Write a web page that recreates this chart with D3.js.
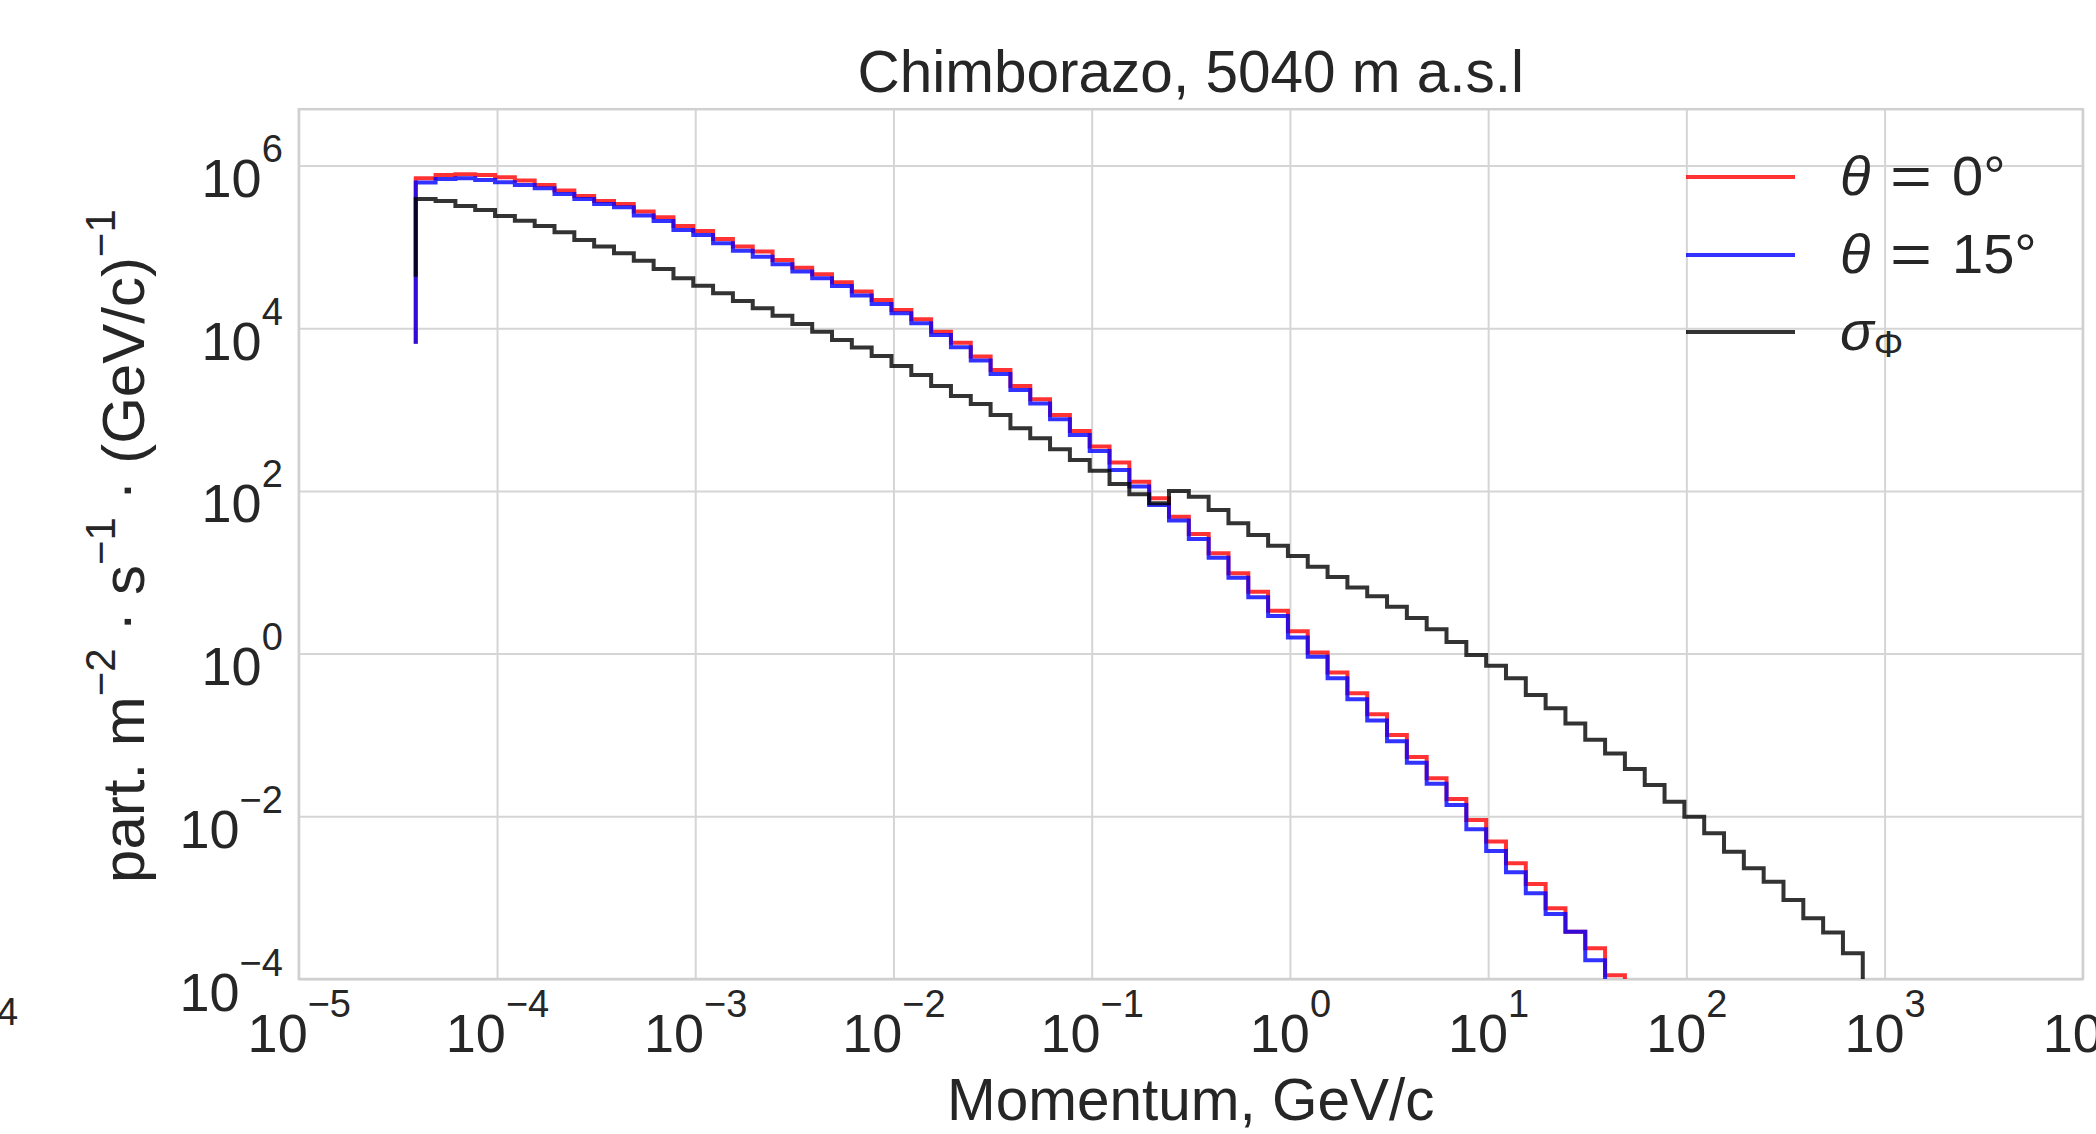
<!DOCTYPE html>
<html>
<head>
<meta charset="utf-8">
<script src="https://cdnjs.cloudflare.com/ajax/libs/d3/7.8.5/d3.min.js"></script>
<style>
body { margin: 0; background: #fff; }
svg text { font-family: "Liberation Sans", Arial, sans-serif; fill: #262626; }
</style>
</head>
<body>
<script>
// histogram bin edges, log10(momentum / GeV/c), shared by all three curves
var binEdgesLog10 = [-4.41,-4.31,-4.21,-4.11,-4.01,-3.91,-3.81,-3.71,-3.61,-3.51,
  -3.41,-3.31,-3.21,-3.11,-3.01,-2.91,-2.81,-2.71,-2.61,-2.51,
  -2.41,-2.31,-2.21,-2.11,-2.01,-1.91,-1.81,-1.71,-1.61,-1.51,
  -1.41,-1.31,-1.21,-1.11,-1.01,-0.91,-0.81,-0.71,-0.61,-0.51,
  -0.41,-0.31,-0.21,-0.11,-0.01,0.09,0.19,0.29,0.39,0.49,
  0.59,0.69,0.79,0.89,0.99,1.09,1.19,1.29,1.39,1.49,
  1.59,1.69,1.79,1.89,1.99,2.09,2.19,2.29,2.39,2.49,
  2.59,2.69,2.79,2.89];

// flux per bin, part. m^-2 s^-1 (GeV/c)^-1
var theta0 = [6.97e5,7.66e5,7.82e5,7.66e5,7.18e5,6.53e5,5.78e5,4.92e5,4.23e5,3.67e5,
  3.37e5,2.72e5,2.31e5,1.81e5,1.57e5,1.25e5,1.01e5,8.75e4,6.90e4,5.56e4,
  4.60e4,3.67e4,2.82e4,2.23e4,1.68e4,1.29e4,9.08e3,6.65e3,4.48e3,3.07e3,
  1.95e3,1.34e3,859,546,351,223,130,81.1,48.3,29.6,
  17.1,9.70,5.75,3.37,1.89,1.03,0.586,0.325,0.180,0.100,
  0.0537,0.0293,0.0163,0.00902,0.00489,0.00264,0.00147,7.40e-4,3.82e-4,2.38e-4,
  1.11e-4];

var theta15 = [6.17e5,6.84e5,6.97e5,6.65e5,6.22e5,5.78e5,5.26e5,4.48e5,3.88e5,3.37e5,
  3.07e5,2.43e5,2.08e5,1.61e5,1.40e5,1.11e5,8.99e4,7.59e4,6.11e4,4.97e4,
  4.11e4,3.31e4,2.52e4,1.99e4,1.53e4,1.15e4,8.26e3,5.83e3,4.00e3,2.74e3,
  1.74e3,1.19e3,760,488,310,181,113,67.1,43.2,25.6,
  15.1,8.59,4.92,2.90,1.58,0.918,0.498,0.275,0.151,0.0836,
  0.0455,0.0251,0.0138,0.00692,0.00375,0.00205,0.00113,6.30e-4,3.82e-4,1.70e-4];

var sigmaPhi = [3.88e5,3.67e5,3.18e5,2.84e5,2.40e5,2.10e5,1.81e5,1.51e5,1.22e5,1.01e5,
  8.34e4,6.78e4,5.36e4,4.11e4,3.34e4,2.69e4,2.16e4,1.76e4,1.42e4,1.13e4,
  9.08e3,7.18e3,5.78e3,4.57e3,3.44e3,2.67e3,1.95e3,1.47e3,1.17e3,859,
  589,444,325,240,177,122,90.8,70.5,99.8,85.1,
  58.3,40.0,28.8,21.2,15.8,11.7,8.75,6.50,5.07,3.78,
  2.75,2.00,1.39,0.962,0.708,0.497,0.310,0.213,0.138,0.0875,
  0.0592,0.0382,0.0243,0.0151,0.00991,0.00618,0.00367,0.00230,0.00157,9.35e-4,
  5.57e-4,3.72e-4,2.07e-4];

// level the first vertical of each step line starts from
var startFloor = [6.46e3, 6.46e3, 4.31e4];

var seriesColors = ["#ff0000", "#0000ff", "#000000"];
var legendNumbers = ["0\u00b0", "15\u00b0"];
var xTickExp = [-5,-4,-3,-2,-1,0,1,2,3,4];
var yTickExp = [-4,-2,0,2,4,6];

var W = 2096, H = 1134;
var margin = {left: 298.8, top: 109.2, right: W - 2082.8, bottom: H - 979};
var pw = W - margin.left - margin.right;
var ph = H - margin.top - margin.bottom;

var svg = d3.select("body").append("svg")
  .attr("width", W)
  .attr("height", H);

svg.append("rect").attr("width", W).attr("height", H).attr("fill", "#fff");

var x = d3.scaleLog().domain([1e-5, 1e4]).range([0, pw]);
var y = d3.scaleLog().domain([1e-4, 4.93e6]).range([ph, 0]);

var g = svg.append("g")
  .attr("transform", "translate(" + margin.left + "," + margin.top + ")");

function expText(e) { return e < 0 ? "\u2212" + (-e) : String(e); }

// x grid + tick labels
var gx = g.append("g")
  .attr("transform", "translate(0," + ph + ")")
  .call(d3.axisBottom(x)
    .tickValues(xTickExp.map(function (e) { return Math.pow(10, e); }))
    .tickSize(-ph).tickFormat(""));
gx.select(".domain").remove();
gx.selectAll(".tick line").attr("stroke", "#d5d5d5").attr("stroke-width", 2);
gx.selectAll(".tick").each(function (d, i) {
  var t = d3.select(this).append("text")
    .attr("y", 73)
    .attr("text-anchor", "middle")
    .attr("font-size", 54);
  t.append("tspan").text("10");
  t.append("tspan").attr("dy", -35).attr("font-size", 38).text(expText(xTickExp[i]));
});

// y grid + tick labels
var gy = g.append("g")
  .call(d3.axisLeft(y)
    .tickValues(yTickExp.map(function (e) { return Math.pow(10, e); }))
    .tickSize(-pw).tickFormat(""));
gy.select(".domain").remove();
gy.selectAll(".tick line").attr("stroke", "#d5d5d5").attr("stroke-width", 2);
gy.selectAll(".tick").each(function (d, i) {
  var t = d3.select(this).append("text")
    .attr("x", -16)
    .attr("y", 31)
    .attr("text-anchor", "end")
    .attr("font-size", 54);
  t.append("tspan").text("10");
  t.append("tspan").attr("dy", -35).attr("font-size", 38).text(expText(yTickExp[i]));
});

// frame
g.append("rect")
  .attr("width", pw).attr("height", ph)
  .attr("fill", "none")
  .attr("stroke", "#d0d0d0")
  .attr("stroke-width", 2.5);

svg.append("defs").append("clipPath").attr("id", "plotclip")
  .append("rect").attr("width", pw).attr("height", ph);

// step histograms
var line = d3.line()
  .x(function (d) { return x(d[0]); })
  .y(function (d) { return y(d[1]); })
  .curve(d3.curveStepAfter);

function stepPoints(vals, floor) {
  var pts = [[Math.pow(10, binEdgesLog10[0]), floor]];
  vals.forEach(function (v, i) { pts.push([Math.pow(10, binEdgesLog10[i]), v]); });
  var end = Math.pow(10, binEdgesLog10[vals.length]);
  pts.push([end, vals[vals.length - 1]]);
  pts.push([end, 1e-6]); // drops out below the axis
  return pts;
}

var allSeries = [theta0, theta15, sigmaPhi];
var lines = g.append("g").attr("clip-path", "url(#plotclip)");
allSeries.forEach(function (vals, i) {
  lines.append("path")
    .attr("d", line(stepPoints(vals, startFloor[i])))
    .attr("fill", "none")
    .attr("stroke", seriesColors[i])
    .attr("stroke-opacity", 0.8)
    .attr("stroke-width", 4)
    .attr("stroke-linejoin", "miter");
});

// legend
var legendY = [177, 255, 332];
var lg = svg.append("g");
allSeries.forEach(function (vals, i) {
  lg.append("line")
    .attr("x1", 1686).attr("x2", 1795)
    .attr("y1", legendY[i]).attr("y2", legendY[i])
    .attr("stroke", seriesColors[i])
    .attr("stroke-opacity", 0.8)
    .attr("stroke-width", 4);
});
// theta entries; mathtext's "=" is wider than the Arial one, so stretch it
legendNumbers.forEach(function (num, i) {
  lg.append("text").attr("x", 1840).attr("y", legendY[i] + 18)
    .attr("font-size", 56).attr("font-style", "italic").text("\u03b8");
  lg.append("text").attr("x", 1890).attr("y", legendY[i] + 18)
    .attr("font-size", 56)
    .attr("textLength", 42).attr("lengthAdjust", "spacingAndGlyphs")
    .text("=");
  lg.append("text").attr("x", 1952).attr("y", legendY[i] + 18)
    .attr("font-size", 56).text(num);
});
var l2 = lg.append("text").attr("x", 1840).attr("y", legendY[2] + 18).attr("font-size", 56);
l2.append("tspan").attr("font-style", "italic").text("\u03c3");
l2.append("tspan").attr("font-size", 37).attr("dy", 7).text("\u03a6");

// title + axis labels
svg.append("text")
  .attr("x", margin.left + pw / 2).attr("y", 92)
  .attr("text-anchor", "middle")
  .attr("font-size", 58.5)
  .text("Chimborazo, 5040 m a.s.l");

svg.append("text")
  .attr("x", margin.left + pw / 2).attr("y", 1120)
  .attr("text-anchor", "middle")
  .attr("font-size", 58.5)
  .text("Momentum, GeV/c");

var yl = svg.append("text")
  .attr("transform", "translate(144," + (margin.top + ph / 2 + 2) + ") rotate(-90)")
  .attr("text-anchor", "middle")
  .attr("font-size", 60);
yl.append("tspan").text("part. m");
yl.append("tspan").attr("dy", -29).attr("font-size", 42).text("\u22122");
yl.append("tspan").attr("dy", 29).text(" \u00b7 s");
yl.append("tspan").attr("dy", -29).attr("font-size", 42).text("\u22121");
yl.append("tspan").attr("dy", 29).text(" \u00b7 (GeV/c)");
yl.append("tspan").attr("dy", -29).attr("font-size", 42).text("\u22121");

// leftover exponent from the neighbouring panel, cut by the crop
svg.append("text")
  .attr("x", -3).attr("y", 1025)
  .attr("font-size", 38)
  .text("4");
</script>
</body>
</html>
